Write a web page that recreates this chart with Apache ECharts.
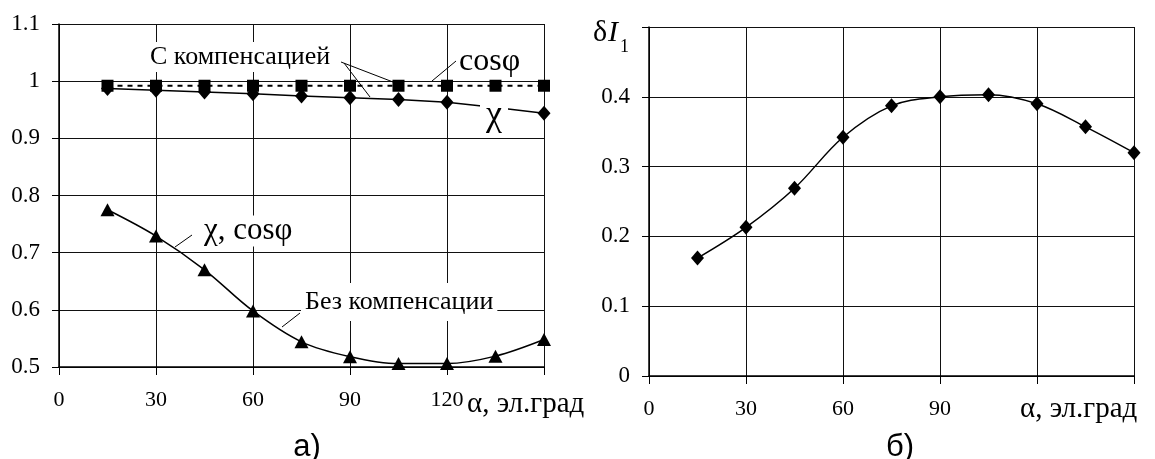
<!DOCTYPE html>
<html><head><meta charset="utf-8">
<script src="https://cdn.jsdelivr.net/npm/echarts@6/dist/echarts.min.js"></script>
<style>html,body{margin:0;padding:0;background:#fff}#c{width:1155px;height:459px}</style>
</head><body><div id="c"></div>
<script>
// ---- data ----
const alphaValues   = [15, 30, 45, 60, 75, 90, 105, 120, 135, 150];
const cosPhiComp    = [0.992, 0.992, 0.992, 0.992, 0.992, 0.992, 0.992, 0.992, 0.992, 0.992];
const chiComp       = [0.987, 0.984, 0.981, 0.978, 0.974, 0.971, 0.968, 0.963, 0.954, 0.944];
const chiCosNoComp  = [0.775, 0.729, 0.670, 0.598, 0.544, 0.518, 0.506, 0.506, 0.519, 0.548];
const deltaI1       = [0.169, 0.213, 0.269, 0.342, 0.387, 0.400, 0.403, 0.390, 0.357, 0.320];
const xTicks        = [0, 30, 60, 90, 120, 150];
const leftYTicks    = [0.5, 0.6, 0.7, 0.8, 0.9, 1.0, 1.1];
const rightYTicks   = [0, 0.1, 0.2, 0.3, 0.4, 0.5];

const pair = (xs, ys) => xs.map((x, i) => [x, ys[i]]);
const SERIF = '"Liberation Serif","Times New Roman",serif';
const SANS = '"Liberation Sans",Arial,sans-serif';

const chart = echarts.init(document.getElementById('c'), null, {renderer: 'canvas'});

function xAxisCfg(gridIndex, fmt) {
  return {
    type: 'value', gridIndex, min: xTicks[0], max: xTicks[xTicks.length - 1], interval: 30,
    axisLine: {show: true, onZero: false, lineStyle: {color: '#000', width: 1.5}},
    axisTick: {show: true, inside: false, length: 8, lineStyle: {color: '#000'}},
    axisLabel: {color: '#000', fontFamily: SERIF, fontSize: 22, margin: 22, formatter: fmt},
    splitLine: {show: true, lineStyle: {color: '#111', width: 1}}
  };
}
function yAxisCfg(gridIndex, ticks, fmt) {
  return {
    type: 'value', gridIndex, min: ticks[0], max: ticks[ticks.length - 1], interval: 0.1,
    axisLine: {show: true, onZero: false, lineStyle: {color: '#000', width: 1.5}},
    axisTick: {show: true, inside: false, length: 7, lineStyle: {color: '#000'}},
    axisLabel: {color: '#000', fontFamily: SERIF, fontSize: 23, margin: 19, formatter: fmt},
    splitLine: {show: true, lineStyle: {color: '#111', width: 1}}
  };
}

const option = {
  backgroundColor: '#fff',
  animation: false,
  grid: [
    {left: 59, top: 24, width: 485, height: 343},
    {left: 649, top: 27, width: 485, height: 349}
  ],
  xAxis: [
    xAxisCfg(0, v => v === 150 ? '' : String(v)),
    xAxisCfg(1, v => v >= 120 ? '' : String(v))
  ],
  yAxis: [
    yAxisCfg(0, leftYTicks, v => String(Math.round(v * 10) / 10)),
    yAxisCfg(1, rightYTicks, v => v >= 0.5 ? '' : String(Math.round(v * 10) / 10))
  ],
  series: [
    {
      type: 'line', xAxisIndex: 0, yAxisIndex: 0, data: pair(alphaValues, cosPhiComp),
      symbol: 'rect', symbolSize: 12, z: 3,
      lineStyle: {color: '#000', width: 2, type: [5, 5]},
      itemStyle: {color: '#000'}
    },
    {
      type: 'line', xAxisIndex: 0, yAxisIndex: 0, data: pair(alphaValues, chiComp),
      symbol: 'diamond', symbolSize: [13, 15], z: 4,
      lineStyle: {color: '#000', width: 1.5},
      itemStyle: {color: '#000'}
    },
    {
      type: 'line', xAxisIndex: 0, yAxisIndex: 0, data: pair(alphaValues, chiCosNoComp),
      symbol: 'triangle', symbolSize: [14, 13], smooth: 0.35, z: 4,
      lineStyle: {color: '#000', width: 1.5},
      itemStyle: {color: '#000'}
    },
    {
      type: 'line', xAxisIndex: 1, yAxisIndex: 1, data: pair(alphaValues, deltaI1),
      symbol: 'diamond', symbolSize: [13, 15], smooth: 0.35, z: 4,
      lineStyle: {color: '#000', width: 1.5},
      itemStyle: {color: '#000'}
    }
  ],
  graphic: [
    // pointer lines
    {type: 'line', z: 100, shape: {x1: 341, y1: 62, x2: 393, y2: 82}, style: {stroke: '#000', lineWidth: 1}},
    {type: 'line', z: 100, shape: {x1: 344, y1: 63, x2: 370, y2: 97}, style: {stroke: '#000', lineWidth: 1}},
    {type: 'line', z: 100, shape: {x1: 432, y1: 81, x2: 456, y2: 61}, style: {stroke: '#000', lineWidth: 1}},
    {type: 'line', z: 100, shape: {x1: 175, y1: 247, x2: 192, y2: 235}, style: {stroke: '#000', lineWidth: 1}},
    {type: 'line', z: 100, shape: {x1: 282, y1: 327, x2: 300, y2: 313}, style: {stroke: '#000', lineWidth: 1}},
    // annotation texts
    {type: 'text', z: 101, style: {text: 'С компенсацией', x: 148, y: 57, align: 'left', verticalAlign: 'middle',
      font: '26px ' + SERIF, fill: '#000', backgroundColor: '#fff', padding: [2, 2]}},
    {type: 'text', z: 101, style: {text: 'cosφ', x: 457, y: 62, align: 'left', verticalAlign: 'middle',
      font: '32px ' + SERIF, fill: '#000', backgroundColor: '#fff', padding: [0, 2]}},
    {type: 'text', z: 101, style: {text: 'χ', x: 494, y: 116, align: 'center', verticalAlign: 'middle',
      font: '36px ' + SERIF, fill: '#000', backgroundColor: '#fff', padding: [0, 6]}},
    {type: 'text', z: 101, style: {text: 'χ, cosφ', x: 201, y: 231, align: 'left', verticalAlign: 'middle',
      font: '31px ' + SERIF, fill: '#000', backgroundColor: '#fff', padding: [0, 3]}},
    {type: 'text', z: 101, style: {text: 'Без компенсации', x: 301, y: 302, align: 'left', verticalAlign: 'middle',
      font: '26px ' + SERIF, fill: '#000', backgroundColor: '#fff', padding: [6, 4]}},
    {type: 'text', z: 101, style: {text: 'α, эл.град', x: 467, y: 404, align: 'left', verticalAlign: 'middle',
      font: '29px ' + SERIF, fill: '#000'}},
    {type: 'text', z: 101, style: {text: 'α, эл.град', x: 1020, y: 409, align: 'left', verticalAlign: 'middle',
      font: '29px ' + SERIF, fill: '#000'}},
    {type: 'text', z: 101, style: {text: 'а)', x: 307, y: 447, align: 'center', verticalAlign: 'middle',
      font: '31px ' + SANS, fill: '#000'}},
    {type: 'text', z: 101, style: {text: 'б)', x: 900, y: 447, align: 'center', verticalAlign: 'middle',
      font: '31px ' + SANS, fill: '#000'}},
    {type: 'text', z: 101, style: {text: 'δ', x: 593, y: 33, align: 'left', verticalAlign: 'middle',
      font: '30px ' + SERIF, fill: '#000'}},
    {type: 'text', z: 101, style: {text: 'I', x: 608, y: 33, align: 'left', verticalAlign: 'middle',
      font: 'italic 30px ' + SERIF, fill: '#000'}},
    {type: 'text', z: 101, style: {text: '1', x: 620, y: 47, align: 'left', verticalAlign: 'middle',
      font: '18px ' + SERIF, fill: '#000'}}
  ]
};
chart.setOption(option);
</script>
</body></html>
